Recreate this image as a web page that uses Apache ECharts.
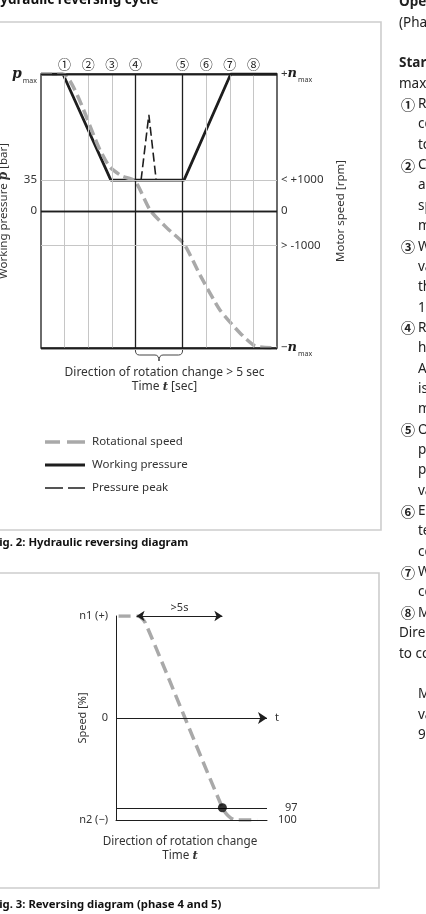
<!DOCTYPE html>
<html>
<head>
<meta charset="utf-8">
<script src="https://cdn.jsdelivr.net/npm/echarts@6/dist/echarts.min.js"></script>
<style>
  html, body { margin: 0; padding: 0; background: #fff; }
  #c { width: 426px; height: 914px; }
</style>
</head>
<body>
<div id="c"></div>
<script>
// ==================== FIG. 2 DATA (time 0..10, level -4..4) ====================
const phaseX = [1, 2, 3, 4, 6, 7, 8, 9];
const phaseLabels = ['①', '②', '③', '④', '⑤', '⑥', '⑦', '⑧'];
const phaseMajor = [false, false, false, true, true, false, false, false];
const speedCurve = [[0, 4], [0.93, 4], [2.5, 1.78], [2.92, 1.28], [3.43, 1.02], [3.98, 0.88], [4.62, 0.03], [5.34, -0.5], [6.06, -0.96], [6.74, -1.87], [7.58, -2.89], [8.43, -3.56], [9.07, -3.94], [10, -4]];
const pressureCurve = [[0, 4], [0.93, 4], [2.96, 0.9], [6.06, 0.9], [8.04, 4], [10, 4]];
const peakCurve = [[4.24, 0.9], [4.57, 2.81], [4.88, 0.9]];
const levelY = [4, 0.9, 0, -1, -4];
const levelMajor = [true, false, true, false, true];
const leftLevelLabels = ['{p|p}{s|max}', '35', '0', '', ''];
const rightLevelLabels = ['+{n|n}{s|max}', '< +1000', '0', '> -1000', '−{n|n}{s|max}'];
const braceRange = [4, 6];

// ==================== FIG. 3 DATA (time from phase 4, speed %) ====================
const revPhaseX = [0, 5];
const revPhaseLabels = ['④', '⑤'];
const revSpeed = [[-1.05, 100], [0, 100], [0.23, 99], [0.52, 93], [5, -88], [5.35, -96], [5.76, -100], [7.03, -100]];
const revTickLabels = { '100': 'n1 (+)', '0': '0', '-100': 'n2 (−)' };
const thresholdY = -88;
const thresholdLabel = '97';
const endLabel = '100';
const revPoint = [[5, -88]];

// ==================== SIDE TEXT (cut at page edge) ====================
const sideLines = [
  ['b', '', 'Operation'], ['n', '', '(Phase'], ['n', '', ''], ['b', '', 'Start'], ['n', '', 'maximum'],
  ['i', '①', 'Reduce'], ['i', '', 'control'], ['i', '', 'to'],
  ['i', '②', 'Control'], ['i', '', 'and'], ['i', '', 'speed'], ['i', '', 'motor'],
  ['i', '③', 'When'], ['i', '', 'valve'], ['i', '', 'the'], ['i', '', '1000'],
  ['i', '④', 'Reverse'], ['i', '', 'hydraulic'], ['i', '', 'A'], ['i', '', 'is'], ['i', '', 'motor'],
  ['i', '⑤', 'Once'], ['i', '', 'pressure'], ['i', '', 'pump'], ['i', '', 'valve'],
  ['i', '⑥', 'End'], ['i', '', 'temperature'], ['i', '', 'control'],
  ['i', '⑦', 'When'], ['i', '', 'control'],
  ['i', '⑧', 'Motor'], ['n', '', 'Direction'], ['n', '', 'to control'], ['n', '', ''],
  ['i', '', 'Motor'], ['i', '', 'value'], ['i', '', '97 %']
];

const FONT = "'Noto Sans', 'DejaVu Sans', sans-serif";
const CIRC = "'Noto Sans CJK JP', 'DejaVu Sans', sans-serif";
const INK = '#1e1e1e', TXT = '#333', GRID = '#c6c6c6', SPEED = '#a9a9a9', BOX = '#cdcdcd';
const subRich = {
  p: { fontStyle: 'italic', fontWeight: 'bold', fontSize: 14, fontFamily: "'DejaVu Serif', serif", color: INK },
  n: { fontStyle: 'italic', fontWeight: 'bold', fontSize: 13, fontFamily: "'DejaVu Serif', serif", color: INK },
  s: { fontSize: 7, color: TXT, verticalAlign: 'bottom', padding: [0, 0, -3, 1] }
};
// legend glyphs: 40x14 box (corner specks keep the box size)
const BOXPATH = 'M0,0h0.01v0.01Z M40,14h-0.01v-0.01Z ';
const iconSpeed = 'path://' + BOXPATH + 'M0,5.25h15v3.5h-15Z M22,5.25h18v3.5h-18Z';
const iconPressure = 'path://' + BOXPATH + 'M0,5.5h40v3h-40Z';
const iconPeak = 'path://' + BOXPATH + 'M0,6.2h18v1.6h-18Z M23,6.2h17v1.6h-17Z';

const chart = echarts.init(document.getElementById('c'));

function levelLines() {
  const out = [];
  levelY.forEach((y, i) => {
    const ls = { color: levelMajor[i] ? INK : GRID, width: levelMajor[i] ? 1.3 : 1, type: 'solid' };
    out.push({ yAxis: y, lineStyle: ls, label: { show: !!leftLevelLabels[i], position: 'start', formatter: leftLevelLabels[i], distance: 4 } });
    out.push({ yAxis: y, lineStyle: ls, label: { show: true, position: 'end', formatter: rightLevelLabels[i], distance: 4 } });
  });
  return out;
}

function phaseLines() {
  return phaseX.map((x, i) => ({
    xAxis: x,
    lineStyle: { color: phaseMajor[i] ? INK : GRID, width: phaseMajor[i] ? 1.3 : 1, type: 'solid' },
    label: { show: true, position: 'end', formatter: phaseLabels[i], distance: 3, fontFamily: CIRC, fontSize: 13, color: '#222' }
  }));
}

const side = [];
sideLines.forEach((l, i) => {
  const y = 2.5 + i * 20.35;
  if (l[1]) side.push({ type: 'text', x: 401, y, style: { text: l[1], font: "bold 14px 'Noto Sans CJK JP'", fill: '#222', verticalAlign: 'middle' } });
  if (l[2]) side.push({ type: 'text', x: l[0] === 'i' ? 418 : 399, y, style: { text: l[2], font: (l[0] === 'b' ? 'bold ' : '') + "13.5px 'Noto Sans'", fill: '#222', verticalAlign: 'middle' } });
});

chart.setOption({
  animation: false,
  backgroundColor: '#fff',
  textStyle: { fontFamily: FONT, color: TXT },
  graphic: [
    { type: 'rect', shape: { x: -5, y: 22, width: 386, height: 508 }, style: { fill: 'none', stroke: BOX, lineWidth: 1.6 } },
    { type: 'rect', shape: { x: -5, y: 573, width: 384, height: 315 }, style: { fill: 'none', stroke: BOX, lineWidth: 1.6 } },
    { type: 'text', x: -10, y: 0, style: { text: 'Hydraulic reversing cycle', font: "bold 13.5px 'Noto Sans'", fill: '#111', verticalAlign: 'middle' } },
    { type: 'text', x: -7, y: 543, style: { text: 'Fig. 2: Hydraulic reversing diagram', font: "bold 11.3px 'Noto Sans'", fill: '#111', verticalAlign: 'middle' } },
    { type: 'text', x: -7, y: 905, style: { text: 'Fig. 3: Reversing diagram (phase 4 and 5)', font: "bold 11.3px 'Noto Sans'", fill: '#111', verticalAlign: 'middle' } },
    ...side
  ],
  legend: {
    data: [
      { name: 'Rotational speed', icon: iconSpeed },
      { name: 'Working pressure', icon: iconPressure },
      { name: 'Pressure peak', icon: iconPeak }
    ],
    orient: 'vertical', left: 40, top: 430, itemWidth: 40, itemHeight: 14, itemGap: 9,
    selectedMode: false,
    textStyle: { fontSize: 11.5, color: TXT, fontFamily: FONT, padding: [0, 0, 0, 2] }
  },
  grid: [
    { left: 41, top: 74, width: 236, height: 274, show: true, borderColor: INK, borderWidth: 1.3, backgroundColor: 'transparent', outerBoundsMode: 'none', containLabel: false },
    { left: 116, top: 616, width: 151, height: 204, outerBoundsMode: 'none', containLabel: false }
  ],
  xAxis: [
    {
      gridIndex: 0, type: 'value', min: 0, max: 10,
      axisLine: { show: false }, axisTick: { show: false }, axisLabel: { show: false }, splitLine: { show: false },
      name: 'Direction of rotation change > 5 sec\nTime {i|t} [sec]',
      nameLocation: 'middle', nameGap: 18,
      nameTextStyle: { fontSize: 12, color: TXT, lineHeight: 14, padding: [0, 0, 0, 11], rich: { i: { fontStyle: 'italic', fontWeight: 'bold', fontFamily: "'DejaVu Serif', serif", fontSize: 11.5 } } }
    },
    {
      gridIndex: 1, type: 'value', min: -1.2, max: 7.6, position: 'bottom',
      axisLine: { show: true, onZero: false, lineStyle: { color: INK, width: 1 } },
      axisTick: { show: false }, axisLabel: { show: false }, splitLine: { show: false },
      name: 'Direction of rotation change\nTime {i|t}',
      nameLocation: 'middle', nameGap: 15,
      nameTextStyle: { fontSize: 11.7, color: TXT, lineHeight: 14, padding: [0, 23, 0, 0], rich: { i: { fontStyle: 'italic', fontWeight: 'bold', fontFamily: "'DejaVu Serif', serif", fontSize: 11.5 } } }
    }
  ],
  yAxis: [
    {
      gridIndex: 0, type: 'value', min: -4, max: 4,
      axisLine: { show: false }, axisTick: { show: false }, axisLabel: { show: false }, splitLine: { show: false },
      name: 'Working pressure {i|p} [bar]', nameLocation: 'middle', nameRotate: 90, nameGap: 31, nameMoveOverlap: false,
      nameTextStyle: { fontSize: 11.5, color: TXT, rich: { i: { fontStyle: 'italic', fontWeight: 'bold', fontFamily: "'DejaVu Serif', serif", fontSize: 12 } } }
    },
    {
      gridIndex: 0, type: 'value', min: -4, max: 4, position: 'right',
      axisLine: { show: false }, axisTick: { show: false }, axisLabel: { show: false }, splitLine: { show: false },
      name: 'Motor speed [rpm]', nameLocation: 'middle', nameRotate: 90, nameGap: 58, nameMoveOverlap: false,
      nameTextStyle: { fontSize: 11.5, color: TXT }
    },
    {
      gridIndex: 1, type: 'value', min: -100, max: 100, interval: 100,
      axisLine: { show: true, onZero: false, lineStyle: { color: INK, width: 1 } },
      axisTick: { show: false }, splitLine: { show: false },
      axisLabel: { fontSize: 11, color: TXT, margin: 8, formatter: v => revTickLabels[String(v)] },
      name: 'Speed [%]', nameLocation: 'middle', nameRotate: 90, nameGap: 28, nameMoveOverlap: false,
      nameTextStyle: { fontSize: 11, color: TXT }
    }
  ],
  series: [
    // ---- Fig. 2 grid lines and level labels ----
    {
      type: 'line', name: 'frame', xAxisIndex: 0, yAxisIndex: 0, data: [[0, 0]], showSymbol: false, silent: true, z: 1,
      lineStyle: { width: 0 },
      markLine: {
        silent: true, symbol: 'none', animation: false,
        label: { color: TXT, fontSize: 11.5, fontFamily: FONT, rich: subRich },
        data: [...phaseLines(), ...levelLines()]
      }
    },
    {
      type: 'line', name: 'Working pressure', xAxisIndex: 0, yAxisIndex: 0, data: pressureCurve,
      showSymbol: false, symbol: 'none', z: 3, lineStyle: { color: INK, width: 2.8 }, itemStyle: { color: INK }
    },
    {
      type: 'line', name: 'Rotational speed', xAxisIndex: 0, yAxisIndex: 0, data: speedCurve,
      showSymbol: false, symbol: 'none', smooth: 0.2, z: 4, lineStyle: { color: SPEED, width: 3.5, type: [11, 5] }, itemStyle: { color: SPEED }
    },
    {
      type: 'line', name: 'Pressure peak', xAxisIndex: 0, yAxisIndex: 0, data: peakCurve,
      showSymbol: false, symbol: 'none', z: 3, lineStyle: { color: INK, width: 1.6, type: [9, 4] }, itemStyle: { color: INK }
    },
    {
      type: 'custom', name: 'brace', xAxisIndex: 0, yAxisIndex: 0, data: [braceRange], silent: true, z: 2,
      renderItem(params, api) {
        const a = api.coord([api.value(0), -4]);
        const b = api.coord([api.value(1), -4]);
        const y0 = a[1] + 2, y1 = y0 + 5, yt = y0 + 11, xm = (a[0] + b[0]) / 2;
        const st = { fill: 'none', stroke: '#444', lineWidth: 1 };
        return {
          type: 'group', children: [
            { type: 'bezierCurve', shape: { x1: a[0], y1: y0, cpx1: a[0], cpy1: y1, x2: a[0] + 4, y2: y1 }, style: st },
            { type: 'line', shape: { x1: a[0] + 4, y1: y1, x2: xm - 4, y2: y1 }, style: st },
            { type: 'bezierCurve', shape: { x1: xm - 4, y1: y1, cpx1: xm, cpy1: y1, x2: xm, y2: yt }, style: st },
            { type: 'bezierCurve', shape: { x1: xm, y1: yt, cpx1: xm, cpy1: y1, x2: xm + 4, y2: y1 }, style: st },
            { type: 'line', shape: { x1: xm + 4, y1: y1, x2: b[0] - 4, y2: y1 }, style: st },
            { type: 'bezierCurve', shape: { x1: b[0] - 4, y1: y1, cpx1: b[0], cpy1: y1, x2: b[0], y2: y0 }, style: st }
          ]
        };
      }
    },
    // ---- Fig. 3 ----
    {
      type: 'line', name: 'rev-frame', xAxisIndex: 1, yAxisIndex: 2, data: [[0, 0]], showSymbol: false, silent: true, z: 1,
      lineStyle: { width: 0 },
      markLine: {
        silent: true, symbol: 'none', animation: false,
        label: { color: TXT, fontSize: 11, fontFamily: FONT },
        data: [
          [{ coord: [-1.2, 0], symbol: 'none', lineStyle: { color: INK, width: 1, type: 'solid' } },
           { coord: [7.6, 0], symbol: 'arrow', symbolSize: 9, label: { show: true, position: 'end', formatter: 't', distance: 8 } }],
          { yAxis: thresholdY, lineStyle: { color: INK, width: 1, type: 'solid' }, label: { show: true, position: 'end', formatter: thresholdLabel, distance: 18, padding: [0, 0, 6, 0] } },
          { yAxis: -100, lineStyle: { color: INK, width: 1, type: 'solid' }, label: { show: true, position: 'end', formatter: endLabel, distance: 11 } },
          ...revPhaseX.map((x, i) => [
            { coord: [x, -100], lineStyle: { color: '#555', width: 1, type: [2, 2] } },
            { coord: [x, 111], label: { show: true, position: 'end', formatter: revPhaseLabels[i], fontFamily: CIRC, fontSize: 13, color: '#222', distance: 3 } }
          ]),
          [{ coord: [revPhaseX[0], 100], symbol: 'arrow', symbolSize: 8, lineStyle: { color: INK, width: 1, type: 'solid' } },
           { coord: [revPhaseX[1], 100], symbol: 'arrow', symbolSize: 8, label: { show: true, position: 'middle', formatter: '>5s', distance: 3 } }]
        ]
      }
    },
    {
      type: 'line', name: 'rev-speed', xAxisIndex: 1, yAxisIndex: 2, data: revSpeed,
      showSymbol: false, symbol: 'none', smooth: 0.3, z: 3, lineStyle: { color: SPEED, width: 3.5, type: [12, 6] }
    },
    {
      type: 'scatter', name: 'rev-point', xAxisIndex: 1, yAxisIndex: 2, data: revPoint,
      symbolSize: 9, z: 5, itemStyle: { color: '#000' }
    }
  ]
});
</script>
</body>
</html>
